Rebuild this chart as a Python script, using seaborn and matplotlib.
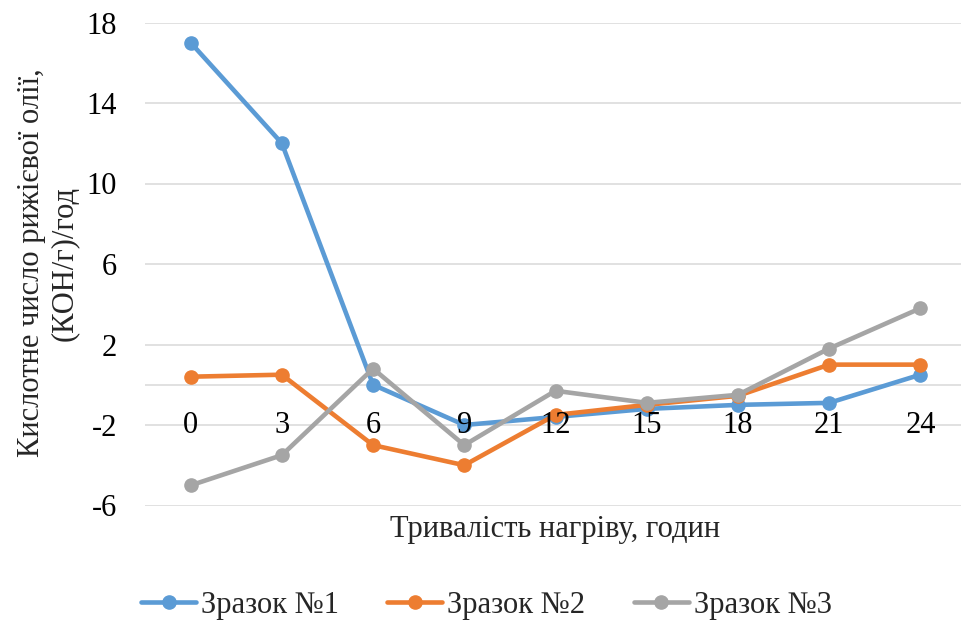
import matplotlib
matplotlib.use("Agg")
import matplotlib.pyplot as plt
import seaborn as sns
import pandas as pd

# Heating duration, hours
hours = [0, 3, 6, 9, 12, 15, 18, 21, 24]

# Acid number of camelina oil for each sample
sample1 = [17.0, 12.0, 0.0, -2.0, -1.6, -1.2, -1.0, -0.9, 0.5]
sample2 = [0.4, 0.5, -3.0, -4.0, -1.5, -1.0, -0.55, 1.0, 1.0]
sample3 = [-5.0, -3.5, 0.8, -3.0, -0.3, -0.9, -0.5, 1.8, 3.8]

series_names = ["Зразок №1", "Зразок №2", "Зразок №3"]
colors = ["#5B9BD5", "#ED7D31", "#A5A5A5"]

y_ticks = [-6, -2, 2, 6, 10, 14, 18]

df = pd.DataFrame({
    "hours": hours * 3,
    "value": sample1 + sample2 + sample3,
    "series": [series_names[0]] * len(hours)
              + [series_names[1]] * len(hours)
              + [series_names[2]] * len(hours),
})

sns.set_theme(style="white")
plt.rcParams["font.family"] = ["Liberation Serif", "DejaVu Serif"]

FS = 22

fig = plt.figure(figsize=(9.61, 6.25), dpi=100)
ax = fig.add_axes([145 / 961, 119.5 / 625, 821 / 961, 483 / 625])

sns.lineplot(
    data=df, x="hours", y="value", hue="series",
    palette=colors, marker="o", markersize=9.5, linewidth=3.3,
    ax=ax, legend=True, zorder=2,
)
for line in ax.lines:
    line.set_markeredgecolor(line.get_color())
    line.set_markeredgewidth(1)

ax.set_xlim(-1.5, 25.5)
ax.set_ylim(-6, 18)
ax.set_yticks(y_ticks)
ax.set_yticklabels([str(t) for t in y_ticks])
ax.set_xticks(hours)
ax.set_xticklabels([str(h) for h in hours])

# Horizontal gridlines and the zero axis line, kept beneath the series
ax.grid(False)
for t in y_ticks + [0]:
    ax.axhline(t, color="#D9D9D9", linewidth=1.1, zorder=1)

# Tick labels drawn above the series lines
ax.set_axisbelow(False)

for side in ["top", "right", "left"]:
    ax.spines[side].set_visible(False)
ax.spines["bottom"].set_position(("data", 0))
ax.spines["bottom"].set_visible(False)

ax.tick_params(axis="x", length=0, pad=19, labelsize=FS, colors="black")
ax.tick_params(axis="y", length=0, pad=20, labelsize=FS, colors="black")

ax.set_xlabel("")
ax.set_ylabel("")

fig.text(555 / 961, 1 - 530 / 625, "Тривалість нагріву, годин",
         ha="center", va="center", fontsize=FS)
fig.text(48 / 961, 1 - 263 / 625,
         "Кислотне число рижієвої олії,\n(КОН/г)/год",
         ha="center", va="center", rotation=90, fontsize=FS,
         linespacing=1.15, multialignment="center")

handles, labels = ax.get_legend_handles_labels()
ax.get_legend().remove()
fig.legend(handles, labels, loc="center", bbox_to_anchor=(0.506, 1 - 605 / 625),
           ncol=3, frameon=False, fontsize=FS, handlelength=1.8,
           columnspacing=1.6, handletextpad=0.15)

fig.savefig("out.png", dpi=100, facecolor="white")
